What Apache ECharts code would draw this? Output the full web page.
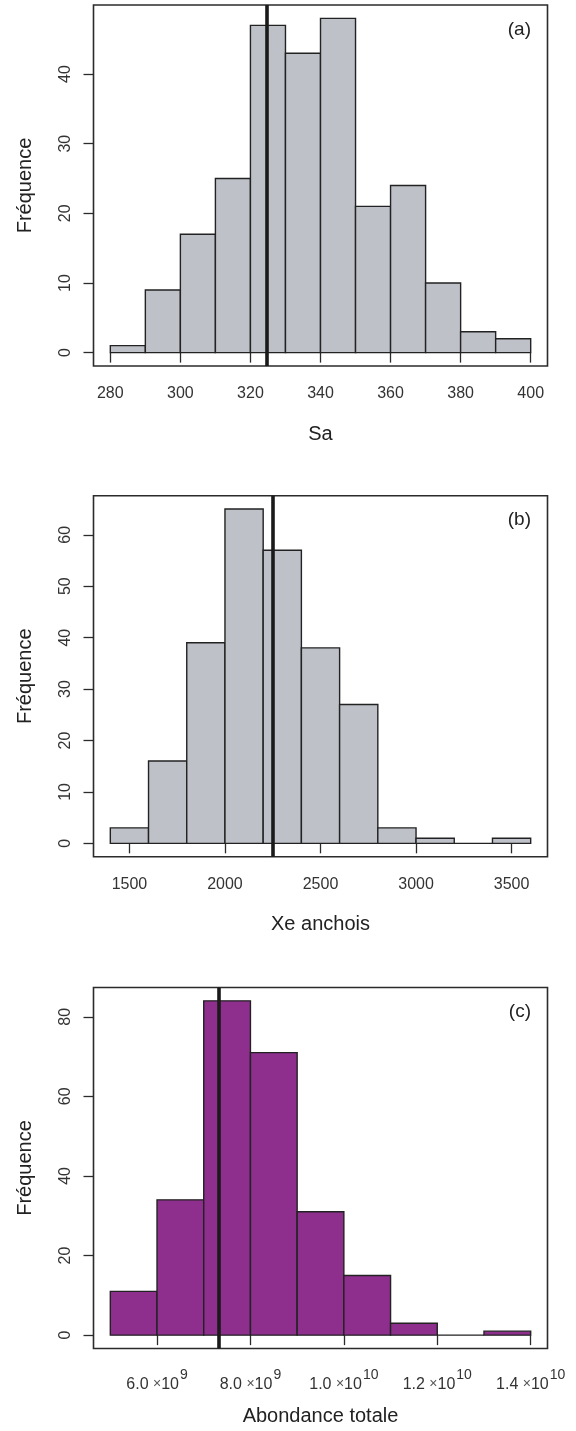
<!DOCTYPE html>
<html><head><meta charset="utf-8">
<script src="https://cdn.jsdelivr.net/npm/echarts@6/dist/echarts.min.js"></script>
<style>html,body{margin:0;padding:0;background:#fff}#c{width:576px;height:1431px}</style>
</head><body><div id="c"></div>
<script>
// ---- data ----
const breaksA = [280,290,300,310,320,330,340,350,360,370,380,390,400];
const countsA = [1,9,17,25,47,43,48,21,24,10,3,2];
const breaksB = [1400,1600,1800,2000,2200,2400,2600,2800,3000,3200,3400,3600];
const countsB = [3,16,39,65,57,38,27,3,1,0,1];
const breaksC = [5e9,6e9,7e9,8e9,9e9,1e10,1.1e10,1.2e10,1.3e10,1.4e10];
const countsC = [11,34,84,71,31,15,3,0,1];
const xTicksA = [280,300,320,340,360,380,400];
const xTicksB = [1500,2000,2500,3000,3500];
const xTicksC = [6e9,8e9,1e10,1.2e10,1.4e10];
const xMantC = ['6.0','8.0','1.0','1.2','1.4'];
const xExpC = ['9','9','10','10','10'];
const yTicksA = [0,10,20,30,40];
const yTicksB = [0,10,20,30,40,50,60];
const yTicksC = [0,20,40,60,80];
const refA = [324.7];
const refB = [2252];
const refC = [7.32e9];
const xTitles = ['Sa','Xe anchois','Abondance totale'];
const yTitle = 'Fréquence';
const panelTags = ['(a)','(b)','(c)'];

// ---- layout / style ----
const FONT = 'Liberation Sans';
const panels = [
  {breaks:breaksA, counts:countsA, xt:xTicksA, yt:yTicksA, ref:refA, fill:'#BEC2C8', top:5},
  {breaks:breaksB, counts:countsB, xt:xTicksB, yt:yTicksB, ref:refB, fill:'#BEC2C8', top:495.7},
  {breaks:breaksC, counts:countsC, xt:xTicksC, yt:yTicksC, ref:refC, fill:'#8E2F8E', top:987.5}
];
const GL = 93.5, GW = 454, GH = 361;

function ext(lo, hi){ const d=(hi-lo)*0.04; return [lo-d, hi+d]; }

const grid=[], xAxis=[], yAxis=[], series=[], title=[];
panels.forEach((p,i)=>{
  grid.push({left:GL, top:p.top, width:GW, height:GH, show:true, borderColor:'#2b2b2b', borderWidth:1.6, backgroundColor:'transparent'});
  const xr = ext(p.breaks[0], p.breaks[p.breaks.length-1]);
  const yr = ext(0, Math.max(...p.counts));
  const isC = i===2;
  xAxis.push({
    type:'value', gridIndex:i, min:xr[0], max:xr[1],
    axisLine:{show:false}, splitLine:{show:false},
    axisTick:{show:true, length:10, lineStyle:{color:'#2b2b2b', width:1.3}, customValues:p.xt},
    axisLabel:{
      customValues:p.xt, margin:20, fontSize:16, color:'#333', fontFamily:FONT,
      formatter: isC ? (v)=>{ const k=p.xt.findIndex(t=>Math.abs(t-v)<1); return '{m|'+xMantC[k]+' }{x|×}{m|10}{s|'+xExpC[k]+'}'; } : (v)=>String(v),
      rich: isC ? {
        m:{fontSize:16, color:'#333', fontFamily:FONT, lineHeight:24, verticalAlign:'bottom'},
        x:{fontSize:14, color:'#555', fontFamily:FONT, lineHeight:24, verticalAlign:'bottom', padding:[0,0,1,0]},
        s:{fontSize:14, color:'#333', fontFamily:FONT, lineHeight:14, verticalAlign:'top', padding:[0,0,0,1]}
      } : undefined
    },
    name:xTitles[i], nameLocation:'middle', nameGap:58,
    nameTextStyle:{fontSize:20, color:'#222', fontFamily:FONT}
  });
  yAxis.push({
    type:'value', gridIndex:i, min:yr[0], max:yr[1],
    axisLine:{show:false}, splitLine:{show:false},
    axisTick:{show:true, length:10, lineStyle:{color:'#2b2b2b', width:1.3}, customValues:p.yt},
    axisLabel:{customValues:p.yt, rotate:90, margin:20, fontSize:16, color:'#333', fontFamily:FONT},
    name:yTitle, nameLocation:'middle', nameGap:58,
    nameTextStyle:{fontSize:20, color:'#222', fontFamily:FONT}
  });
  const data = p.counts.map((c,k)=>[p.breaks[k], p.breaks[k+1], c]);
  series.push({
    type:'custom', xAxisIndex:i, yAxisIndex:i, data, encode:{x:[0,1], y:2},
    renderItem:(params, api)=>{
      const a = api.coord([api.value(0), api.value(2)]);
      const b = api.coord([api.value(1), 0]);
      return {type:'rect', shape:{x:a[0], y:a[1], width:b[0]-a[0], height:b[1]-a[1]},
        style:{fill:p.fill, stroke:'#222', lineWidth:1.4}};
    },
    markLine:{silent:true, symbol:['none','none'], label:{show:false},
      lineStyle:{color:'#1a1a1a', width:3.6, type:'solid'},
      emphasis:{disabled:true},
      data:p.ref.map(v=>({xAxis:v}))}
  });
  title.push({text:panelTags[i], right:45, top:p.top+15, padding:0,
    textStyle:{fontSize:19, fontWeight:'normal', color:'#222', fontFamily:FONT}});
});

const chart = echarts.init(document.getElementById('c'), null, {renderer:'canvas'});
chart.setOption({animation:false, backgroundColor:'#fff', title, grid, xAxis, yAxis, series});
</script>
</body></html>
